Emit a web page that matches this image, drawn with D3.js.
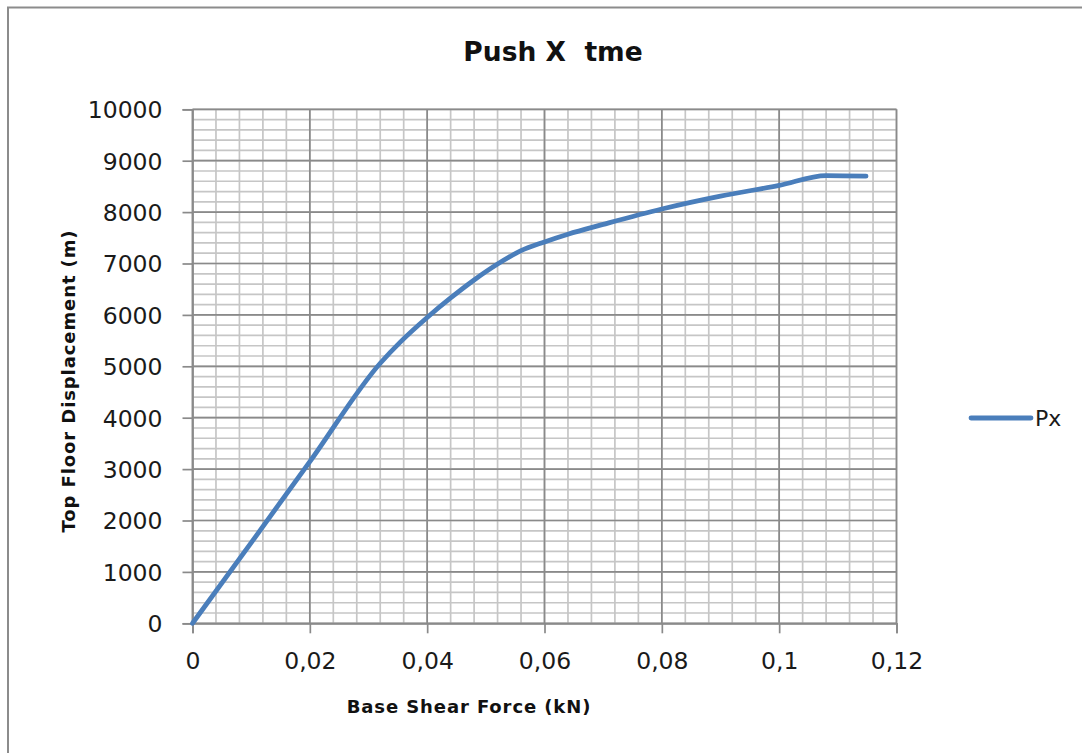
<!DOCTYPE html>
<html>
<head>
<meta charset="utf-8">
<script src="https://cdn.jsdelivr.net/npm/d3@7"></script>
<style>
  html, body { margin: 0; padding: 0; background: #fff; }
  svg { display: block; }
</style>
</head>
<body>
<svg id="chart" width="1082" height="753"></svg>
<script>
// Pushover curve, series "Px"
const shearForce = [0, 0.0102, 0.0200, 0.0320, 0.0355, 0.0400, 0.0440, 0.0480, 0.0520, 0.0560, 0.0600, 0.0640, 0.0700, 0.0800, 0.0900, 0.1000, 0.1080, 0.1148];
const topDisp    = [0, 1600, 3145, 5060, 5480, 5950, 6330, 6680, 6990, 7250, 7420, 7570, 7760, 8060, 8310, 8520, 8710, 8700];

const xTicks = [0, 0.02, 0.04, 0.06, 0.08, 0.1, 0.12];
const yTicks = [0, 1000, 2000, 3000, 4000, 5000, 6000, 7000, 8000, 9000, 10000];
const xMinorStep = 0.004;
const yMinorStep = 200;

const titleText = "Push X  tme";
const xTitle = "Base Shear Force (kN)";
const yTitle = "Top Floor Displacement (m)";
const seriesName = "Px";

const svg = d3.select("#chart");
const plot = { left: 192.5, right: 896.5, top: 109.3, bottom: 623.3 };

const x = d3.scaleLinear().domain([0, 0.12]).range([plot.left, plot.right]);
const y = d3.scaleLinear().domain([0, 10000]).range([plot.bottom, plot.top]);

const font = "'DejaVu Sans', Verdana, sans-serif";
const blue = "#4a7ebb";

// outer chart frame (top and left edges)
svg.append("path")
  .attr("d", "M8,753 L8,7.5 L1082,7.5")
  .attr("fill", "none").attr("stroke", "#8c8c8c").attr("stroke-width", 2);

// minor grid
const xMinor = d3.range(0, 0.12 + 1e-9, xMinorStep);
const yMinor = d3.range(0, 10000 + 1e-6, yMinorStep);
const gMinor = svg.append("g").attr("stroke", "#c6c6c6").attr("stroke-width", 1.7);
gMinor.selectAll("line.vx").data(xMinor).join("line")
  .attr("x1", d => x(d)).attr("x2", d => x(d))
  .attr("y1", plot.top).attr("y2", plot.bottom);
gMinor.selectAll("line.hy").data(yMinor).join("line")
  .attr("y1", d => y(d)).attr("y2", d => y(d))
  .attr("x1", plot.left).attr("x2", plot.right);

// major grid
const gMajor = svg.append("g").attr("stroke", "#8a8a8a").attr("stroke-width", 1.7);
gMajor.selectAll("line.vx").data(xTicks).join("line")
  .attr("x1", d => x(d)).attr("x2", d => x(d))
  .attr("y1", plot.top).attr("y2", plot.bottom);
gMajor.selectAll("line.hy").data(yTicks).join("line")
  .attr("y1", d => y(d)).attr("y2", d => y(d))
  .attr("x1", plot.left).attr("x2", plot.right);

// axes
const fmtX = d => d3.format("~g")(d).replace(".", ",");
const xAxis = d3.axisBottom(x).tickValues(xTicks).tickFormat(fmtX).tickSize(10).tickPadding(19);
const yAxis = d3.axisLeft(y).tickValues(yTicks).tickFormat(d3.format("d")).tickSize(10).tickPadding(20);

const gx = svg.append("g").attr("transform", `translate(0,${plot.bottom})`).call(xAxis);
const gy = svg.append("g").attr("transform", `translate(${plot.left},0)`).call(yAxis);
[gx, gy].forEach(g => {
  g.select(".domain").attr("stroke", "#8a8a8a").attr("stroke-width", 1.7);
  g.selectAll(".tick line").attr("stroke", "#8a8a8a").attr("stroke-width", 1.7);
  g.selectAll(".tick text").attr("fill", "#1a1a1a")
    .style("font-family", font).style("font-size", "23.5px");
});
gy.selectAll(".tick text").attr("dy", "0.36em");

// series line
const pts = shearForce.map((v, i) => [v, topDisp[i]]);
const line = d3.line().x(d => x(d[0])).y(d => y(d[1])).curve(d3.curveMonotoneX);
svg.append("path").datum(pts)
  .attr("d", line)
  .attr("fill", "none").attr("stroke", blue)
  .attr("stroke-width", 4.8).attr("stroke-linejoin", "round").attr("stroke-linecap", "round");

// titles
svg.append("text").attr("x", 553).attr("y", 61).attr("text-anchor", "middle")
  .style("white-space", "pre")
  .style("font-family", font).style("font-weight", "bold").style("font-size", "26.5px")
  .attr("fill", "#111").text(titleText);

svg.append("text").attr("x", 469).attr("y", 713).attr("text-anchor", "middle")
  .style("font-family", font).style("font-weight", "bold").style("font-size", "18px")
  .style("letter-spacing", "0.9px")
  .attr("fill", "#111").text(xTitle);

svg.append("text").attr("transform", "translate(75,381) rotate(-90)").attr("text-anchor", "middle")
  .style("font-family", font).style("font-weight", "bold").style("font-size", "18px")
  .style("letter-spacing", "0.9px")
  .attr("fill", "#111").text(yTitle);

// legend
const lg = svg.append("g").attr("transform", "translate(971,418)");
lg.append("line").attr("x1", 0).attr("x2", 60).attr("y1", 0).attr("y2", 0)
  .attr("stroke", blue).attr("stroke-width", 4.8).attr("stroke-linecap", "round");
lg.append("text").attr("x", 64).attr("y", 0).attr("dy", "0.36em")
  .style("font-family", font).style("font-size", "22px").attr("fill", "#1a1a1a").text(seriesName);
</script>
</body>
</html>
